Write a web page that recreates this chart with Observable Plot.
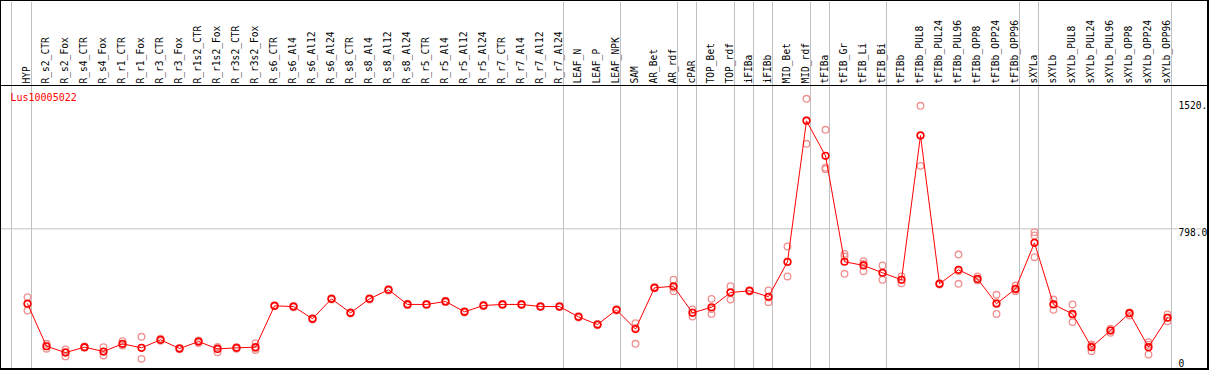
<!DOCTYPE html>
<html><head><meta charset="utf-8">
<script src="https://cdn.jsdelivr.net/npm/d3@7"></script>
<script src="https://cdn.jsdelivr.net/npm/@observablehq/plot@0.6"></script>
<style>
html,body{margin:0;padding:0;background:#fff;}
#chart svg{display:block;border-style:solid;border-color:#000;border-width:1px 2px 2px 1px;}
</style></head><body><div id="chart"></div>
<script>
const title = "Lus10005022";
const categories = ["HYP","R_s2_CTR","R_s2_Fox","R_s4_CTR","R_s4_Fox","R_r1_CTR","R_r1_Fox","R_r3_CTR","R_r3_Fox","R_r1s2_CTR","R_r1s2_Fox","R_r3s2_CTR","R_r3s2_Fox","R_s6_CTR","R_s6_Al4","R_s6_Al12","R_s6_Al24","R_s8_CTR","R_s8_Al4","R_s8_Al12","R_s8_Al24","R_r5_CTR","R_r5_Al4","R_r5_Al12","R_r5_Al24","R_r7_CTR","R_r7_Al4","R_r7_Al12","R_r7_Al24","LEAF_N","LEAF_P","LEAF_NPK","SAM","AR_Bet","AR_rdf","cPAR","TOP_Bet","TOP_rdf","iFIBa","iFIBb","MID_Bet","MID_rdf","tFIBa","tFIB_Gr","tFIB_Li","tFIB_Bi","tFIBb","tFIBb_PUL8","tFIBb_PUL24","tFIBb_PUL96","tFIBb_OPP8","tFIBb_OPP24","tFIBb_OPP96","sXYLa","sXYLb","sXYLb_PUL8","sXYLb_PUL24","sXYLb_PUL96","sXYLb_OPP8","sXYLb_OPP24","sXYLb_OPP96"];
const meanValues = [370,127,91,122,97,141,118,164,114,154,112,118,122,358,354,284,398,318,398,450,366,366,383,324,360,366,366,354,354,295,251,335,225,461,470,318,350,434,444,410,610,1415,1215,610,589,547,507,1331,484,564,512,370,455,718,366,312,122,217,316,122,290];
const rep1 = [408,141,109,126,122,156,181,170,118,160,122,122,145,362,358,288,402,322,402,454,370,369,387,328,364,369,369,357,357,299,255,339,259,466,507,337,398,470,448,446,697,1541,1364,655,613,589,526,1501,488,651,526,421,474,779,394,366,137,227,320,150,309];
const rep2 = [331,113,69,118,74,131,55,158,110,146,93,113,116,355,350,280,394,314,394,446,362,363,379,320,356,363,363,351,351,291,247,331,141,458,442,297,312,394,440,379,526,1284,1147,541,556,507,487,1158,480,484,503,312,442,636,335,265,99,204,303,80,270];
const rep3 = [371,127,95,122,95,136,118,164,114,156,121,119,105,357,354,284,398,318,398,450,366,366,383,324,360,366,366,354,354,295,251,335,232,460,462,320,340,438,444,405,607,1420,1139,640,598,545,507,1334,484,557,510,377,450,760,369,305,130,217,316,136,291];
const groupEnds = ["HYP","R_r7_Al24","LEAF_NPK","AR_rdf","cPAR","TOP_rdf","iFIBa","iFIBb","MID_rdf","tFIBa","tFIB_Bi","tFIBb_OPP96","sXYLa","sXYLb_OPP96"];
const groupStart = ["HYP"];
const yTicks = [0, 798, 1520];
const yTickLabels = ["0", "798.0", "1520."];
const yMax = 1617;

const means = categories.map((c, i) => ({cat: c, value: meanValues[i]}));
const reps = categories.flatMap((c, i) => [rep1[i], rep2[i], rep3[i]].map(v => ({cat: c, value: v})));
const labelOf = v => yTickLabels[yTicks.indexOf(v)];
const gray = "#c0c0c0";

const chart = Plot.plot({
  width: 1206, height: 367,
  marginTop: 84, marginBottom: 0, marginLeft: 0, marginRight: 0,
  style: {fontFamily: "'DejaVu Sans Mono', monospace", fontSize: "9.6px", background: "#fff", color: "#000"},
  x: {type: "point", domain: categories, padding: 1.7368, align: 0.3894},
  y: {domain: [0, yMax], axis: null},
  marks: [
    Plot.ruleY([798], {stroke: gray}),
    Plot.ruleX(groupEnds, {x: d => d, dx: 4, stroke: gray}),
    Plot.ruleX(groupStart, {x: d => d, dx: -16, stroke: gray}),
    Plot.axisX(groupEnds, {anchor: "top", tickSize: 84, tickFormat: () => "", stroke: gray, strokeOpacity: 1, dx: 4, label: null}),
    Plot.axisX(groupStart, {anchor: "top", tickSize: 84, tickFormat: () => "", stroke: gray, strokeOpacity: 1, dx: -16, label: null}),
    Plot.axisX({anchor: "top", tickSize: 0, tickPadding: 2, tickRotate: -90, textAnchor: "start", lineAnchor: "middle", dx: -1, fontSize: 9.6, fill: "#000", label: null}),
    Plot.ruleY([yMax], {stroke: "#000", strokeWidth: 1.2}),
    Plot.dot(reps, {x: "cat", y: "value", r: 3.3, stroke: "#f09090", strokeWidth: 1.3, fill: "none"}),
    Plot.line(means, {x: "cat", y: "value", stroke: "#ff0000", strokeWidth: 1}),
    Plot.dot(means, {x: "cat", y: "value", r: 3.3, stroke: "#ff0000", strokeWidth: 1.6, fill: "none"}),
    Plot.text(yTicks.filter(v => v > 0), {y: d => d, text: labelOf, frameAnchor: "right", textAnchor: "start", lineAnchor: "top", dx: -29, fontSize: 9.6, fill: "#000", stroke: "#fff", strokeWidth: 3, paintOrder: "stroke"}),
    Plot.text(yTicks.filter(v => v === 0), {y: d => d, text: labelOf, frameAnchor: "right", textAnchor: "start", lineAnchor: "bottom", dx: -29, dy: -2, fontSize: 9.6, fill: "#000"}),
    Plot.text([title], {text: d => d, frameAnchor: "top-left", textAnchor: "start", lineAnchor: "middle", dx: 9, dy: 12, fontSize: 10, fill: "#ff0000"})
  ]
});
document.getElementById("chart").appendChild(chart);
</script></body></html>
